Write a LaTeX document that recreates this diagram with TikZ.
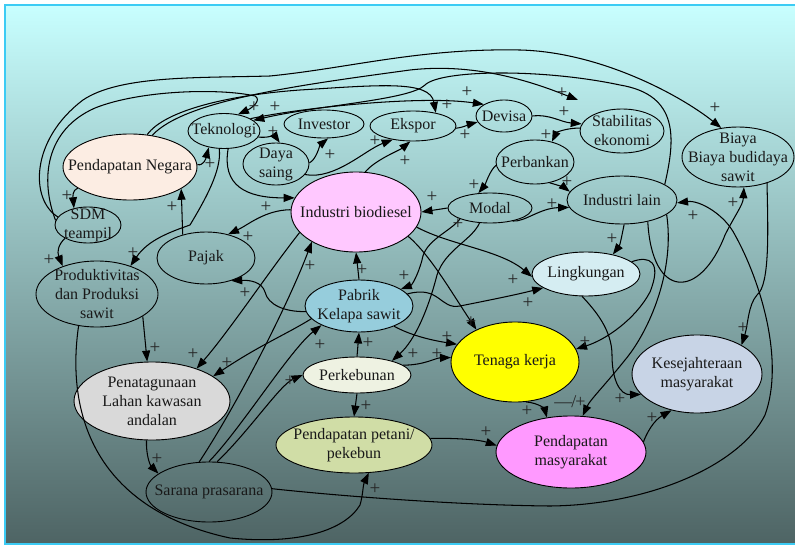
\documentclass[tikz,border=0pt]{standalone}
\usepackage{fontspec}
\setmainfont{Liberation Serif}
\usetikzlibrary{shapes.geometric,arrows.meta}

\definecolor{frameline}{HTML}{3CCBF4}
\definecolor{bgtop}{HTML}{C8FFFF}
\definecolor{bgmid}{HTML}{A0CDCD}
\definecolor{bgbot}{HTML}{4E6464}
\definecolor{cpn}{HTML}{FCEDE3}
\definecolor{cib}{HTML}{FFC8FF}
\definecolor{cpabrik}{HTML}{96CDDC}
\definecolor{ctk}{HTML}{FFFF00}
\definecolor{ckesej}{HTML}{C8D4E6}
\definecolor{ckebun}{HTML}{EEF2E2}
\definecolor{clahan}{HTML}{D9D9D9}
\definecolor{cpetani}{HTML}{D0DDA6}
\definecolor{cpmas}{HTML}{FF99FF}
\definecolor{cling}{HTML}{D5EDF2}

\newcommand{\vfont}{\fontsize{16}{19}\selectfont}
\newcommand{\pfont}{\fontsize{19}{19}\selectfont}

\tikzset{
  var/.style={ellipse, draw=black, line width=0.9pt, inner xsep=-25pt, inner ysep=-15pt,
              align=center, font=\vfont, text=black!90},
  link/.style={line width=1.05pt, -{Triangle[length=11pt,width=8pt]}},
  pol/.style={inner sep=0pt, font=\pfont, text=black!85},
}

\begin{document}
\begin{tikzpicture}[x=1pt,y=-1pt]
\useasboundingbox (0,0) rectangle (795,546);
\clip (0,0) rectangle (795,546);
\fill[white] (0,0) rectangle (795,546);
% backdrop panel
\shade[top color=bgtop, middle color=bgmid, bottom color=bgbot] (5,5) rectangle (805,544);
\draw[frameline, line width=2pt] (805,5) -- (5,5) -- (5,544) -- (805,544);

% variables
\node[var, minimum width=134pt, minimum height=66pt, fill=cpn] (pn) at (130,167) {Pendapatan Negara};
\node[var, minimum width=72pt, minimum height=35pt] (tek) at (224,131) {Teknologi};
\node[var, minimum width=80pt, minimum height=28pt] (inv) at (324,124) {Investor};
\node[var, minimum width=66pt, minimum height=42pt] (daya) at (276,164) {Daya\\saing};
\node[var, minimum width=86pt, minimum height=30pt] (eks) at (413,126) {Ekspor};
\node[var, minimum width=56pt, minimum height=32pt] (dev) at (504,116) {Devisa};
\node[var, minimum width=84pt, minimum height=44pt] (stab) at (622,131) {Stabilitas\\ekonomi};
\node[var, minimum width=112pt, minimum height=60pt] (biaya) at (738,157) {Biaya\\Biaya budidaya\\sawit};
\node[var, minimum width=78pt, minimum height=44pt] (bank) at (535,162) {Perbankan};
\node[var, minimum width=110pt, minimum height=48pt] (ilain) at (622,200) {Industri lain};
\node[var, minimum width=84pt, minimum height=30pt] (modal) at (490,208) {Modal};
\node[var, minimum width=130pt, minimum height=80pt, fill=cib] (ib) at (356,212) {Industri biodiesel};
\node[var, minimum width=66pt, minimum height=36pt] (sdm) at (88,225) {SDM\\teampil};
\node[var, minimum width=98pt, minimum height=52pt] (pajak) at (206,258) {Pajak};
\node[var, minimum width=122pt, minimum height=66pt] (prod) at (97,294) {Produktivitas\\dan Produksi\\sawit};
\node[var, minimum width=108pt, minimum height=44pt, fill=cling] (ling) at (586,274) {Lingkungan};
\node[var, minimum width=108pt, minimum height=52pt, fill=cpabrik] (pabrik) at (359,306) {Pabrik\\Kelapa sawit};
\node[var, minimum width=128pt, minimum height=80pt, fill=ctk] (tk) at (515,362) {Tenaga kerja};
\node[var, minimum width=130pt, minimum height=78pt, fill=ckesej] (kesej) at (697,374) {Kesejahteraan\\masyarakat};
\node[var, minimum width=108pt, minimum height=36pt, fill=ckebun] (kebun) at (357,375) {Perkebunan};
\node[var, minimum width=156pt, minimum height=78pt, fill=clahan] (lahan) at (152,401) {Penatagunaan\\Lahan kawasan\\andalan};
\node[var, minimum width=156pt, minimum height=56pt, fill=cpetani] (petani) at (354,445) {Pendapatan petani/\\pekebun};
\node[var, minimum width=150pt, minimum height=72pt, fill=cpmas] (pmas) at (571,452) {Pendapatan\\masyarakat};
\node[var, minimum width=126pt, minimum height=60pt] (sarana) at (209,492) {Sarana prasarana};

\coordinate (stabin) at (578,100);

% causal links
\draw[link] (pn.2) .. controls (204,166) and (206,158) .. (tek.227);
\draw[link] (pn.202) .. controls (72,190) and (73,198) .. (sdm.130);
\draw[link] (sdm.210) .. controls (58,245) and (57,252) .. (prod.141);
\draw[link] (pajak.135) -- (pn.337);
\draw[link] (ib.178) .. controls (265,210) and (248,225) .. (pajak.47);
\draw[link] (pabrik.186) .. controls (285,312) and (268,305) .. (265,292) .. controls (262,282) and (250,280) .. (pajak.318);
\draw[link] (tek.283) .. controls (222,185) and (245,198) .. (ib.167);
\draw[link] (tek.255) .. controls (222,170) and (205,200) .. (190,225) .. controls (170,232) and (148,240) .. (prod.40);
\draw[link] (tek.350) .. controls (266,138) and (275,136) .. (daya.80);
\draw[link] (daya.2) .. controls (316,160) and (320,145) .. (inv.286);
\draw[link] (daya.340) .. controls (335,180) and (365,150) .. (eks.214);
\draw[link] (ib.77) .. controls (375,160) and (400,150) .. (eks.260);
\draw[link] (eks.357) .. controls (465,127) and (470,124) .. (dev.193);
\draw[link] (dev.0) .. controls (550,114) and (560,122) .. (stab.170);
\draw[link] (stab.176) .. controls (565,128) and (556,133) .. (bank.50);
\draw[link] (bank.185) .. controls (490,170) and (485,185) .. (modal.128);
\draw[link] (bank.305) .. controls (558,185) and (565,188) .. (ilain.171);
\draw[link] (modal.180) -- (ib.0);
\draw[link] (modal.330) .. controls (525,222) and (540,208) .. (ilain.188);
\draw[link] (ilain.275) .. controls (622,235) and (620,245) .. (ling.36);
\draw[link] (ib.346) .. controls (450,245) and (500,250) .. (ling.183);
\draw[link] (pabrik.14) .. controls (440,285) and (440,310) .. (460,306) .. controls (490,300) and (515,295) .. (ling.198);
\draw[link] (modal.200) .. controls (450,232) and (425,240) .. (422,260) .. controls (418,275) and (412,285) .. (pabrik.22);
\draw[link] (modal.235) .. controls (472,240) and (445,250) .. (437,275) .. controls (428,310) and (415,340) .. (kebun.22);
\draw[link] (ib.335) .. controls (430,255) and (450,290) .. (tk.140);
\draw[link] (pabrik.330) .. controls (410,335) and (430,340) .. (tk.163);
\draw[link] (kebun.12) .. controls (425,365) and (435,358) .. (tk.176);
\draw[link] (ling.15) .. controls (650,255) and (662,262) .. (650,292) .. controls (635,320) and (605,340) .. (tk.12);
\draw[link] (tk.285) .. controls (540,403) and (545,410) .. (pmas.125);
\draw[link] (petani.5) .. controls (460,438) and (480,440) .. (pmas.175);
\draw[link] (ilain.342) .. controls (675,270) and (650,330) .. (625,360) .. controls (605,385) and (590,400) .. (pmas.72);
\draw[link] (ling.260) .. controls (595,310) and (612,330) .. (612,355) .. controls (612,380) and (620,395) .. (kesej.200);
\draw[link] (pmas.8) .. controls (650,425) and (658,418) .. (kesej.235);
\draw[link] (biaya.318) .. controls (768,230) and (770,285) .. (757,295) .. controls (748,305) and (748,325) .. (kesej.33);
\draw[link] (ilain.320) .. controls (652,300) and (700,300) .. (725,235) .. controls (735,215) and (743,205) .. (biaya.281);
\draw[link] (sarana.3) .. controls (330,495) and (450,505) .. (550,506) .. controls (650,505) and (740,465) .. (765,415) .. controls (785,360) and (760,280) .. (735,235) .. controls (725,215) and (700,200) .. (ilain.357);
\draw[link] (pabrik.90) -- (ib.270);
\draw[link] (kebun.90) -- (pabrik.270);
\draw[link] (kebun.270) -- (petani.90);
\draw[link] (prod.334) -- (lahan.97);
\draw[link] (lahan.262) .. controls (146,455) and (150,465) .. (sarana.160);
\draw[link] (ib.200) .. controls (270,270) and (230,330) .. (lahan.36);
\draw[link] (pabrik.195) .. controls (285,335) and (260,345) .. (lahan.22);
\draw[link] (sarana.108) .. controls (240,400) and (290,300) .. (ib.214);
\draw[link] (sarana.90) .. controls (240,430) and (290,350) .. (pabrik.207);
\draw[link] (sarana.75) .. controls (250,430) and (280,385) .. (kebun.180);
\draw[link] (prod.240) .. controls (65,420) and (100,510) .. (230,538) .. controls (300,545) and (345,530) .. (360,505) .. controls (363,495) and (363,485) .. (petani.298);
% long links across the top
\draw[link] (sdm.165) .. controls (30,200) and (30,140) .. (83,100) .. controls (120,75) and (200,78) .. (270,76) .. controls (350,68) and (420,48) .. (520,50) .. controls (600,52) and (680,95) .. (biaya.120);
\draw[link] (sdm.172) .. controls (40,180) and (45,130) .. (95,108) .. controls (140,90) and (220,88) .. (255,96) .. controls (262,100) and (252,108) .. (tek.50);
\draw[link] (pn.55) .. controls (185,100) and (300,85) .. (410,70) .. controls (480,62) and (540,85) .. (stabin);
\draw[link] (pn.62) .. controls (165,110) and (230,95) .. (300,90) .. controls (380,85) and (430,80) .. (eks.30);
\draw[link] (ilain.20) .. controls (675,140) and (680,95) .. (620,85) .. controls (540,68) and (440,70) .. (425,85) .. controls (410,100) and (320,105) .. (tek.20);
\draw[link] (tek.25) .. controls (300,108) and (420,95) .. (dev.150);

% polarity signs
\foreach \px/\py [count=\i] in {
  254/107, 275/107, 273/132, 210/164, 330/155, 375/141, 405/161, 447/105,
  465/135, 467/92, 562/93, 564/112, 546/135, 715/108, 474/185, 567/182,
  552/204, 432/197, 266/207, 693/216, 733/203, 67/196, 172/207, 248/237,
  49/260, 133/253, 612/239, 513/280, 528/303, 245/293, 310/266, 362/270,
  404/276, 471/322, 447/337, 437/354, 585/342, 413/354, 368/343, 320/345,
  290/381, 366/406, 155/348, 193/354, 227/363, 157/459, 375/489, 486/432,
  527/411, 620/399, 652/418, 743/328, 458/224}
  \node[pol] (sg\i) at (\px,\py) {+};
\node[pol, font=\fontsize{18}{18}\selectfont] (mixsign) at (570,402) {—\kern-1pt/\kern-1pt+};
\end{tikzpicture}
\end{document}
